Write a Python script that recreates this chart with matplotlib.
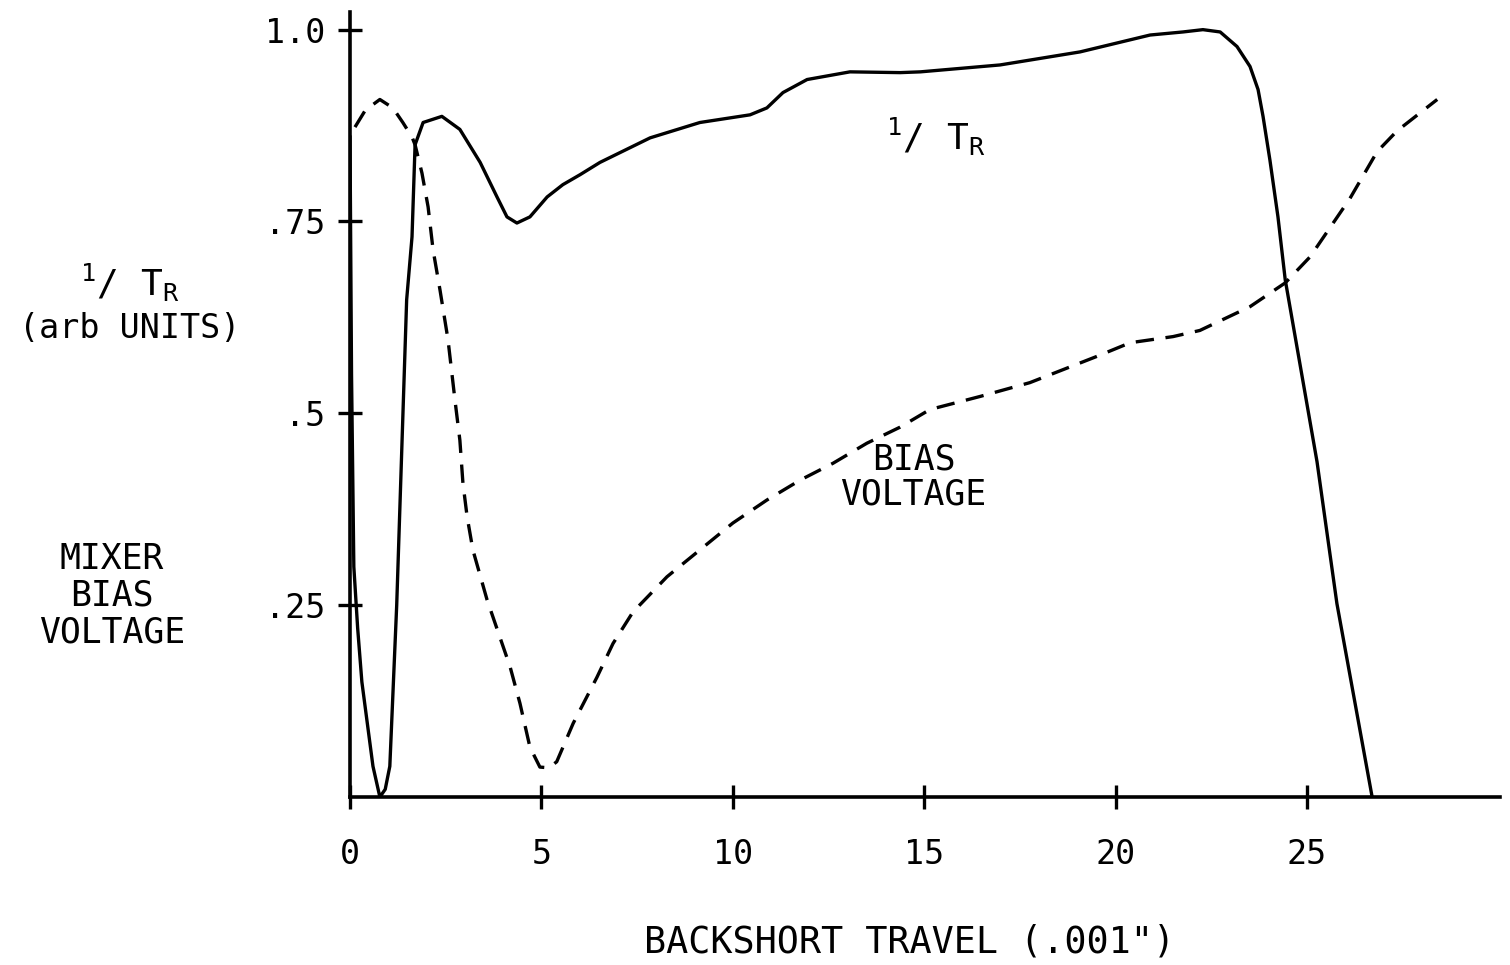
import matplotlib
matplotlib.use("Agg")
from matplotlib import pyplot as plt

plt.rcParams["font.family"] = "DejaVu Sans Mono"
plt.rcParams["mathtext.fontset"] = "custom"
plt.rcParams["mathtext.rm"] = "DejaVu Sans Mono"
plt.rcParams["mathtext.default"] = "regular"

# 1/TR curve (solid)
tr_x = [0.0, 0.04, 0.1, 0.2, 0.31, 0.6, 0.78, 0.92, 1.04, 1.22, 1.48, 1.62, 1.70,
        1.91, 2.40, 2.87, 3.40, 3.84, 4.10, 4.36, 4.70, 5.15, 5.56, 6.01, 6.53,
        7.84, 9.14, 10.45, 10.89, 11.31, 11.94, 13.06, 14.37, 14.9, 16.98, 19.07,
        20.9, 21.76, 22.28, 22.73, 23.17, 23.51, 23.72, 23.85, 24.03, 24.24, 24.43,
        25.26, 25.78, 26.7]
tr_y = [0.86, 0.55, 0.30, 0.22, 0.15, 0.04, 0.0, 0.01, 0.04, 0.25, 0.648, 0.73,
        0.85, 0.879, 0.887, 0.870, 0.827, 0.782, 0.756, 0.748, 0.756, 0.782, 0.798,
        0.811, 0.827, 0.859, 0.879, 0.889, 0.898, 0.918, 0.935, 0.945, 0.944, 0.945,
        0.954, 0.971, 0.993, 0.997, 1.0, 0.997, 0.978, 0.952, 0.922, 0.887, 0.830,
        0.756, 0.674, 0.437, 0.252, 0.0]

# mixer bias voltage curve (dashed)
bias_x = [0.13, 0.4, 0.78, 1.12, 1.38, 1.62, 1.70, 1.88, 2.04, 2.17, 2.35, 2.56,
          2.74, 2.87, 2.95, 3.06, 3.21, 3.58, 4.0, 4.18, 4.44, 4.7, 4.96, 5.2, 5.4,
          5.83, 6.45, 6.87, 7.39, 8.28, 9.14, 10.0, 10.89, 11.76, 12.62, 13.5,
          14.37, 15.15, 16.46, 17.76, 18.63, 19.5, 20.38, 21.5, 22.2, 23.51, 24.43,
          25.08, 26.12, 26.83, 27.35, 28.4]
bias_y = [0.873, 0.895, 0.909, 0.898, 0.879, 0.860, 0.850, 0.813, 0.769, 0.713,
          0.661, 0.596, 0.518, 0.465, 0.409, 0.365, 0.322, 0.257, 0.196, 0.17,
          0.122, 0.065, 0.039, 0.038, 0.046, 0.096, 0.156, 0.2, 0.241, 0.287, 0.322,
          0.357, 0.387, 0.413, 0.435, 0.461, 0.482, 0.505, 0.522, 0.54, 0.557,
          0.574, 0.592, 0.600, 0.608, 0.639, 0.670, 0.704, 0.78, 0.841, 0.868, 0.909]

xticks = [0, 5, 10, 15, 20, 25]
xtick_labels = ["0", "5", "10", "15", "20", "25"]
yticks = [0.25, 0.5, 0.75, 1.0]
ytick_labels = [".25", ".5", ".75", "1.0"]

fig = plt.figure(figsize=(15.1, 9.65), dpi=100)
ax = fig.add_axes([350 / 1510, 1 - 797 / 965, 1150 / 1510, 785 / 965])

ax.plot(tr_x, tr_y, color="black", lw=2.4, solid_joinstyle="round")
ax.plot(bias_x, bias_y, color="black", lw=2.4, dashes=(5.5, 3.5))

ax.set_xlim(0, 30.04)
ax.set_ylim(0, 1.023)
for side in ["top", "right"]:
    ax.spines[side].set_visible(False)
for side in ["left", "bottom"]:
    ax.spines[side].set_linewidth(2.6)

ax.set_xticks(xticks)
ax.set_xticklabels(xtick_labels)
ax.set_yticks(yticks)
ax.set_yticklabels(ytick_labels)
ax.tick_params(axis="both", direction="inout", length=17, width=2.4, labelsize=24)
ax.tick_params(axis="x", pad=21)
ax.tick_params(axis="y", pad=9)

ax.text(15.3, 0.86, "$^{1}$/ T$_{R}$", fontsize=26, ha="center", va="center")
ax.text(14.72, 0.4166, "BIAS\nVOLTAGE", fontsize=25, ha="center", va="center",
        linespacing=1.05)

fig.text(130 / 1510, 1 - 283 / 965, "$^{1}$/ T$_{R}$", fontsize=26, ha="center",
         va="center")
fig.text(130 / 1510, 1 - 329 / 965, "(arb UNITS)", fontsize=24, ha="center",
         va="center")
fig.text(112 / 1510, 1 - 596 / 965, "MIXER\nBIAS\nVOLTAGE", fontsize=25,
         ha="center", va="center", linespacing=1.1)
fig.text(910 / 1510, 1 - 942 / 965, "BACKSHORT TRAVEL (.001\")", fontsize=26.5,
         ha="center", va="center")

fig.savefig("out.png", dpi=100)
